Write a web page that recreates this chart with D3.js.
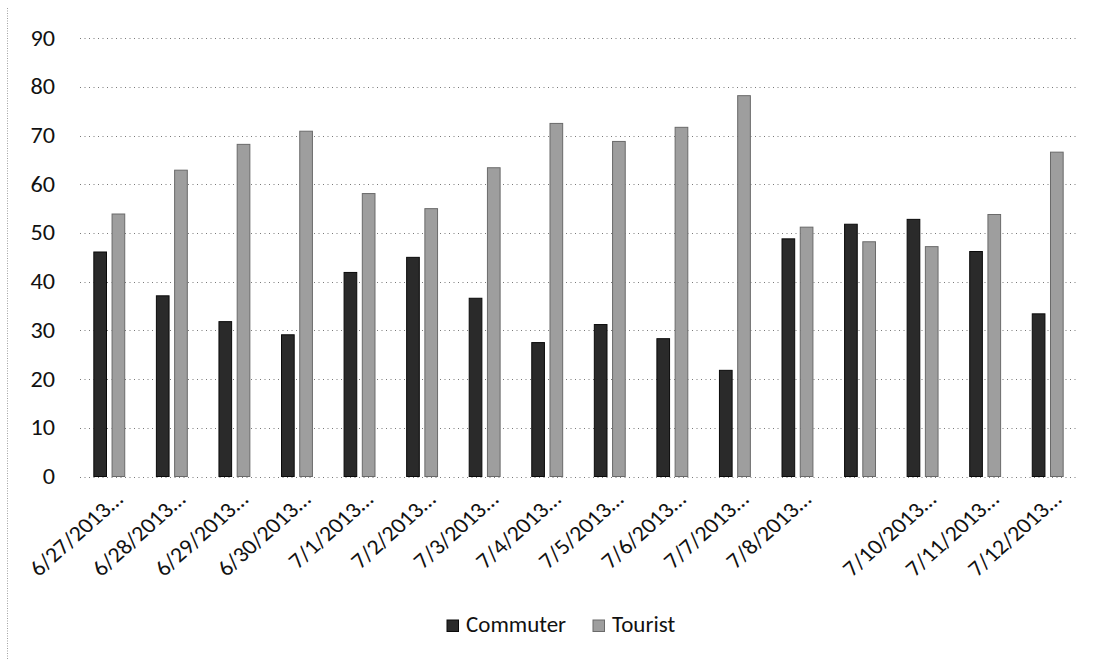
<!DOCTYPE html>
<html>
<head>
<meta charset="utf-8">
<script src="https://cdn.jsdelivr.net/npm/d3@7"></script>
<style>
  html, body { margin: 0; padding: 0; background: #fff; }
  svg { display: block; }
  text { font-family: Carlito, Calibri, Lato, "Open Sans", sans-serif; fill: #111; }
</style>
</head>
<body>
<svg id="chart" width="1097" height="660"></svg>
<script>
// Daily share of riders, by type (percent)
const categories = ["6/27/2013", "6/28/2013", "6/29/2013", "6/30/2013", "7/1/2013", "7/2/2013",
  "7/3/2013", "7/4/2013", "7/5/2013", "7/6/2013", "7/7/2013", "7/8/2013", "7/9/2013",
  "7/10/2013", "7/11/2013", "7/12/2013"];
// Axis labels under each group (the 7/9 label is skipped on the axis)
const tickLabels = ["6/27/2013…", "6/28/2013…", "6/29/2013…", "6/30/2013…", "7/1/2013…", "7/2/2013…",
  "7/3/2013…", "7/4/2013…", "7/5/2013…", "7/6/2013…", "7/7/2013…", "7/8/2013…", "",
  "7/10/2013…", "7/11/2013…", "7/12/2013…"];
const seriesNames = ["Commuter", "Tourist"];
const commuter = [46.1, 37.1, 31.8, 29.1, 41.9, 45.0, 36.6, 27.5, 31.2, 28.3, 21.8, 48.8, 51.8, 52.8, 46.2, 33.4];
const tourist  = [53.9, 62.9, 68.2, 70.9, 58.1, 55.0, 63.4, 72.5, 68.8, 71.7, 78.2, 51.2, 48.2, 47.2, 53.8, 66.6];
const yTicks = [0, 10, 20, 30, 40, 50, 60, 70, 80, 90];

const seriesColors = { Commuter: "#2a2a2a", Tourist: "#9e9e9e" };
const seriesStroke = { Commuter: "#0a0a0a", Tourist: "#6a6a6a" };

const svg = d3.select("#chart");

const rows = categories.map((c, i) => ({ cat: c, label: tickLabels[i], Commuter: commuter[i], Tourist: tourist[i] }));

const x0 = d3.scaleBand().domain(categories).range([78, 1079]).paddingInner(0.49).paddingOuter(0.245);
const x1 = d3.scaleBand().domain(seriesNames).range([0, x0.bandwidth()]).paddingInner(0.25);
const y = d3.scaleLinear().domain([0, 90]).range([476.5, 38.2]);

// faint dotted frame edge on the left
svg.append("line")
  .attr("x1", 7.5).attr("x2", 7.5).attr("y1", 8).attr("y2", 660)
  .attr("stroke", "#a0a0a0").attr("stroke-width", 1).attr("stroke-dasharray", "1 1.5");

// gridlines
svg.append("g").selectAll("line").data(yTicks).join("line")
  .attr("x1", 80).attr("x2", 1078)
  .attr("y1", d => Math.round(y(d)) + 0.5).attr("y2", d => Math.round(y(d)) + 0.5)
  .attr("stroke", "#7a7a7a").attr("stroke-width", 1).attr("stroke-dasharray", "1 3.5");

// y tick labels
svg.append("g").selectAll("text").data(yTicks).join("text")
  .attr("transform", d => `translate(55,${y(d)}) scale(1.1,1)`)
  .attr("text-anchor", "end").attr("dy", "0.34em")
  .style("font-size", "22px")
  .text(d => d);

// bars
const groups = svg.append("g").selectAll("g").data(rows).join("g")
  .attr("transform", d => `translate(${x0(d.cat)},0)`);
groups.selectAll("rect").data(d => seriesNames.map(k => ({ key: k, value: d[k] }))).join("rect")
  .attr("x", d => x1(d.key) + 0.5)
  .attr("width", x1.bandwidth() - 1)
  .attr("y", d => y(d.value))
  .attr("height", d => y(0) - y(d.value))
  .attr("fill", d => seriesColors[d.key])
  .attr("stroke", d => seriesStroke[d.key]).attr("stroke-width", 1);

// category labels, rotated
svg.append("g").selectAll("text").data(rows).join("text")
  .attr("transform", d => `translate(${x0(d.cat) + x0.bandwidth() / 2 + 15},501) scale(1.12,1) rotate(-45)`)
  .attr("text-anchor", "end")
  .style("font-size", "21.5px")
  .text(d => d.label);

// legend
const legend = svg.append("g");
const legendX = { Commuter: 447, Tourist: 593 };
seriesNames.forEach(k => {
  legend.append("rect")
    .attr("x", legendX[k]).attr("y", 620).attr("width", 11.5).attr("height", 11.5)
    .attr("fill", seriesColors[k]).attr("stroke", seriesStroke[k]).attr("stroke-width", 1);
  legend.append("text")
    .attr("x", legendX[k] + 19).attr("y", 632)
    .style("font-size", "23px")
    .text(k);
});
</script>
</body>
</html>
